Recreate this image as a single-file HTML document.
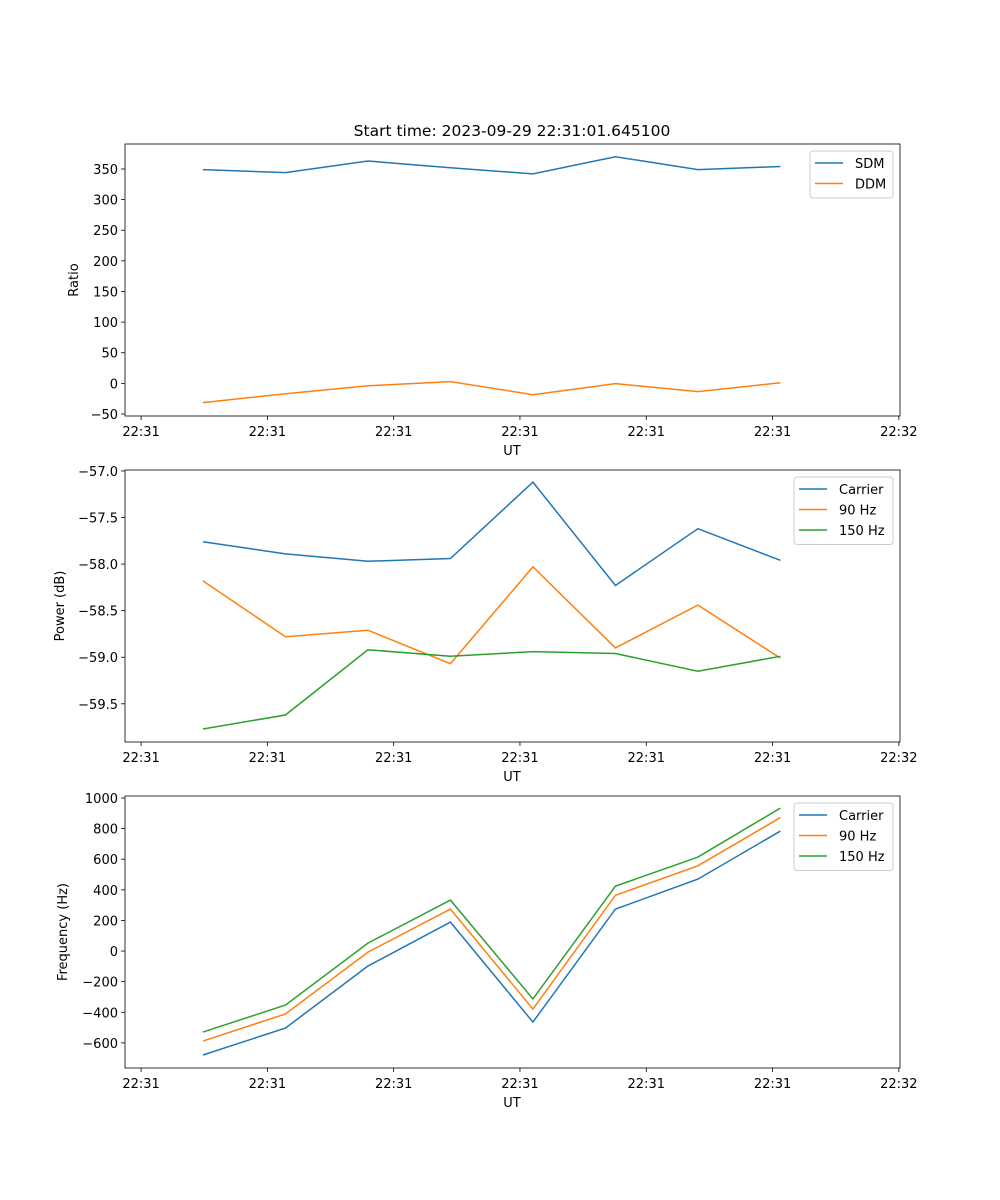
<!DOCTYPE html>
<html><head><meta charset="utf-8"><style>
body{margin:0;background:#fff}
svg{display:block;font-family:"DejaVu Sans","Liberation Sans",sans-serif}
</style></head><body>
<svg id="fig" width="1000" height="1200" xmlns="http://www.w3.org/2000/svg">
<rect width="1000" height="1200" fill="#fff"/>
<text x="512" y="136" font-size="15.5" text-anchor="middle">Start time: 2023-09-29 22:31:01.645100</text>
</svg>
<script>
const sampleIdx=[0,1,2,3,4,5,6,7];
const xTickPos=[-0.75,0.781,2.312,3.843,5.374,6.905,8.436];
const xTickLabels=["22:31","22:31","22:31","22:31","22:31","22:31","22:32"];
const sdm=[349,344,363,352,342,370,349,354];
const ddm=[-31.5,-17,-4,2.8,-18.5,-0.5,-13.5,1];
const pwrCarrier=[-57.76,-57.89,-57.97,-57.94,-57.12,-58.23,-57.62,-57.96];
const pwr90=[-58.18,-58.78,-58.71,-59.07,-58.03,-58.90,-58.44,-59.01];
const pwr150=[-59.77,-59.62,-58.92,-58.99,-58.94,-58.96,-59.15,-58.99];
const frqCarrier=[-679,-503,-98,189,-464,274,470,784];
const frq90=[-588,-411,-7,274,-379,364,557,872];
const frq150=[-529,-353,52,333,-313,424,614,934];
const yTicks1=[-50,0,50,100,150,200,250,300,350];
const yTicks2=[-59.5,-59.0,-58.5,-58.0,-57.5,-57.0];
const yTicks3=[-600,-400,-200,0,200,400,600,800,1000];

const NS="http://www.w3.org/2000/svg";
const svg=document.getElementById('fig');
const X0=125,X1=900,XMIN=-0.945,XMAX=8.45;
const xs=v=>X0+(v-XMIN)/(XMAX-XMIN)*(X1-X0);
function el(t,a,p){const e=document.createElementNS(NS,t);for(const k in a)e.setAttribute(k,a[k]);(p||svg).appendChild(e);return e;}
function panel(id,top,ymin,ymax,ticks,fmt,ylabel,series,legW){
  const bot=top+272;
  const ys=v=>bot-(v-ymin)/(ymax-ymin)*272;
  const g=el('g',{});
  
  
  xTickPos.forEach((t,i)=>{const x=xs(t);
    el('line',{x1:x,x2:x,y1:bot,y2:bot+4,stroke:'#000','stroke-width':0.8},g);
    const tx=el('text',{x:x,y:bot+20,'font-size':13,'text-anchor':'middle'},g);tx.textContent=xTickLabels[i];
    
    });
  ticks.forEach(v=>{const y=ys(v);
    el('line',{x1:X0-4,x2:X0,y1:y,y2:y,stroke:'#000','stroke-width':0.8},g);
    const tx=el('text',{x:X0-7,y:y+5,'font-size':13,'text-anchor':'end'},g);tx.textContent=fmt(v);
    
    });
  const xl=el('text',{x:512,y:bot+39,'font-size':13,'text-anchor':'middle'},g);xl.textContent='UT';
  
  
  const lx=id==='ratio'?78:id==='power'?64:67;
  const yl=el('text',{x:lx,y:top+136,'font-size':13,'text-anchor':'middle',transform:`rotate(-90 ${lx} ${top+136})`},g);yl.textContent=ylabel;
  
  
  series.forEach(s=>{
    const p=el('polyline',{points:sampleIdx.map((t,i)=>xs(t)+','+ys(s.d[i])).join(' '),fill:'none',stroke:s.c,'stroke-width':1.5},g);
    
    });
  el('rect',{x:X0,y:top,width:X1-X0,height:272,fill:'none',stroke:'#000','stroke-width':0.8},g);
  const lg=el('g',{},g);
  
  
  const lx0=893-legW,ly0=top+7;
  el('rect',{x:lx0,y:ly0,width:legW,height:series.length*20.5+6,rx:3,fill:'#fff',stroke:'#ccc','stroke-width':1},lg);
  series.forEach((s,i)=>{const y=ly0+12+i*20.5;
    el('line',{x1:lx0+5,x2:lx0+33,y1:y,y2:y,stroke:s.c,'stroke-width':1.5},lg);
    const t=el('text',{x:lx0+45,y:y+5,'font-size':13},lg);t.textContent=s.l;
    
    });
}
const m=v=>String(v).replace('-','\u2212');
panel('ratio',144,-53.3,390.8,yTicks1,v=>m(v),'Ratio',[{d:sdm,c:'#1f77b4',l:'SDM',n:'sdm-line'},{d:ddm,c:'#ff7f0e',l:'DDM',n:'ddm-line'}],83);
panel('power',470,-59.91,-56.99,yTicks2,v=>m(v.toFixed(1)),'Power (dB)',[{d:pwrCarrier,c:'#1f77b4',l:'Carrier',n:'carrier-power-line'},{d:pwr90,c:'#ff7f0e',l:'90 Hz',n:'90hz-power-line'},{d:pwr150,c:'#2ca02c',l:'150 Hz',n:'150hz-power-line'}],99);
panel('freq',796,-764,1013,yTicks3,v=>m(v),'Frequency (Hz)',[{d:frqCarrier,c:'#1f77b4',l:'Carrier',n:'carrier-freq-line'},{d:frq90,c:'#ff7f0e',l:'90 Hz',n:'90hz-freq-line'},{d:frq150,c:'#2ca02c',l:'150 Hz',n:'150hz-freq-line'}],99);
</script>
</body></html>
